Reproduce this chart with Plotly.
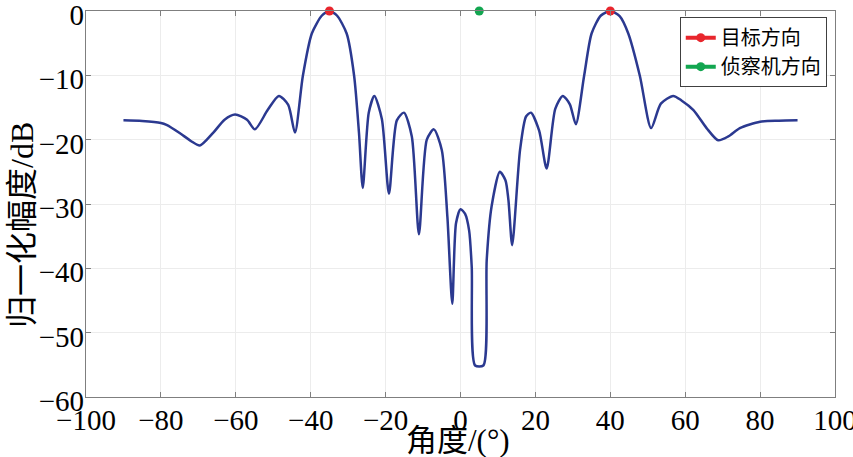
import plotly.graph_objs as go

# beam pattern (angle in deg, normalized gain in dB)
angle = [-90, -85, -80, -78.5, -74.9, -72, -69.6, -66, -63, -60.2, -57, -54.9,
         -51.5, -48.5, -46, -44.2, -42.1, -39.7, -37, -35, -33, -30.4, -28.4,
         -27.1, -26.1, -24.5, -23.0, -21, -19.1, -17, -15.1, -13, -11.1, -9,
         -7.1, -5.0, -3.5, -2.2, -1.2, 0.0, 1.2, 2.3, 3.0, 3.9, 6.1, 7.0, 8.3,
         10.5, 12.0, 12.8, 13.8, 15.9, 17.5, 18.8, 21, 23.0, 25.3, 27.3, 29.2,
         30.8, 33.0, 35.0, 37.5, 40, 42.5, 44.8, 47.9, 50.9, 53.5, 56.8, 59,
         62.2, 65.7, 68.8, 71.5, 74.6, 80, 85, 90]
gain_db = [-17.0, -17.1, -17.4, -17.7, -19.0, -20.2, -20.9, -18.9, -16.9, -16.1,
           -16.9, -18.4, -15.4, -13.2, -14.6, -18.9, -10.1, -3.5, -0.7, 0.0,
           -0.7, -3.5, -10.1, -19.0, -27.5, -15.8, -13.2, -16.8, -28.4, -17.0,
           -15.8, -19.5, -34.7, -20.0, -18.4, -21.6, -32.0, -45.5, -33.0, -30.8,
           -31.5, -34.1, -39.8, -55.1, -55.1, -38.7, -30.4, -25.0, -26.3, -29.4,
           -36.4, -21.6, -16.4, -15.8, -18.6, -24.5, -15.2, -13.2, -14.5, -17.6,
           -10.1, -3.5, -0.7, 0.0, -0.8, -3.5, -10.1, -18.2, -14.4, -13.2, -13.9,
           -15.4, -18.2, -20.1, -19.5, -18.2, -17.2, -17.05, -17.0]

target_angle = [-35, 40]
target_db = [0, 0]
jammer_angle = [5]
jammer_db = [0]

xticks = list(range(-100, 101, 20))
yticks = list(range(-60, 1, 10))

FONT = "Liberation Serif, Noto Sans CJK SC"


def gapped(vals):
    # break the line between separate marker points (legend still shows line+dot)
    out = []
    for v in vals:
        out += [v, None]
    return out[:-1]


fig = go.Figure()
fig.add_trace(go.Scatter(
    x=angle, y=gain_db, mode='lines', showlegend=False,
    line=dict(color='#2b3990', width=2.5, shape='spline', smoothing=0.7),
))
fig.add_trace(go.Scatter(
    x=gapped(target_angle), y=gapped(target_db), mode='lines+markers', name='目标方向',
    line=dict(color='#e8262d', width=4), marker=dict(size=9, color='#e8262d'),
    cliponaxis=False, connectgaps=False,
))
fig.add_trace(go.Scatter(
    x=jammer_angle, y=jammer_db, mode='lines+markers', name='侦察机方向',
    line=dict(color='#12a650', width=4), marker=dict(size=9, color='#12a650'),
    cliponaxis=False,
))

axis_style = dict(
    showline=True, linecolor='#7f7f7f', linewidth=1.2, mirror='ticks',
    ticks='inside', ticklen=5, tickcolor='#7f7f7f',
    showgrid=True, gridcolor='#ececec', gridwidth=1, zeroline=False,
    tickfont=dict(family=FONT, size=29, color='black'),
    ticklabeloverflow='allow', automargin=False,
)

fig.update_xaxes(range=[-100, 100], tickvals=xticks, ticklabelstandoff=-3, **axis_style)
fig.update_yaxes(range=[-60, 0], tickvals=yticks, ticklabelstandoff=-5,
                 ticklabelshift=4, **axis_style)

fig.add_annotation(text='角度/(°)', xref='paper', yref='paper', x=0.497, y=-0.112,
                   showarrow=False, xanchor='center', yanchor='middle',
                   font=dict(family=FONT, size=31, color='black'))
fig.add_annotation(text='归一化幅度/dB', xref='paper', yref='paper', x=-0.0854, y=0.446,
                   showarrow=False, xanchor='center', yanchor='middle', textangle=-90,
                   font=dict(family=FONT, size=32, color='black'))

fig.update_layout(
    width=853, height=457,
    margin=dict(l=86, r=18, t=11, b=60),
    plot_bgcolor='white', paper_bgcolor='white',
    legend=dict(x=0.989, y=0.984, xanchor='right', yanchor='top',
                bgcolor='white', bordercolor='#404040', borderwidth=1,
                font=dict(family=FONT, size=20, color='black'),
                tracegroupgap=0, itemwidth=30),
)

fig.write_html("out.html", config={'displayModeBar': False},
               post_script="document.body.style.margin='0';")
